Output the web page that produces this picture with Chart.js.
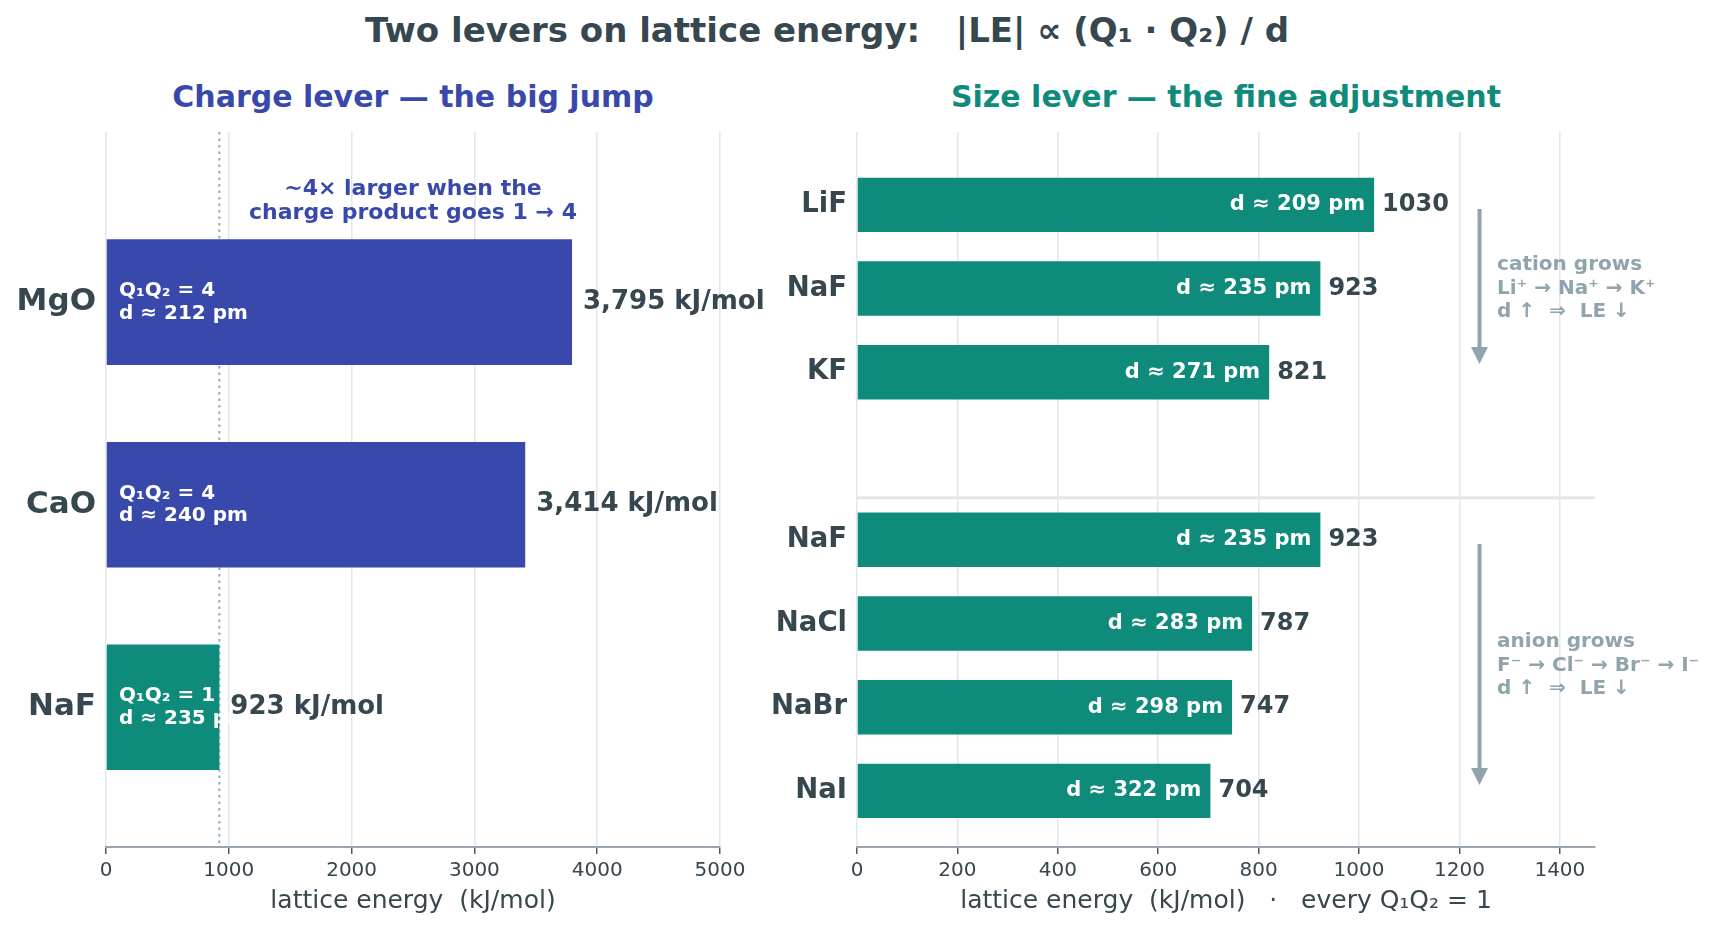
<!DOCTYPE html>
<html>
<head>
<meta charset="utf-8">
<script src="https://cdn.jsdelivr.net/npm/chart.js@4.4.1/dist/chart.umd.min.js"></script>
<style>
  html, body { margin: 0; padding: 0; background: #fff; }
  #page { position: relative; width: 1717px; height: 929px; overflow: hidden; font-family: 'DejaVu Sans', sans-serif; }
  .lbl { position: absolute; white-space: pre; font-weight: bold; transform: translate(-50%, -50%); line-height: 1; }
  #title { left: 827px; top: 30px; font-size: 34px; color: #37474F; }
  #subL { left: 413px; top: 97px; font-size: 30px; color: #3949AB; }
  #subR { left: 1226px; top: 97px; font-size: 30px; color: #0E8B7B; }
  #wrapL { position: absolute; left: 0; top: 0; width: 860px; height: 929px; }
  #wrapR { position: absolute; left: 760px; top: 0; width: 957px; height: 929px; }
</style>
</head>
<body>
<div id="page">
  <div id="title" class="lbl">Two levers on lattice energy:   |LE| ∝ (Q₁ · Q₂) / d</div>
  <div id="subL" class="lbl">Charge lever — the big jump</div>
  <div id="subR" class="lbl">Size lever — the fine adjustment</div>
  <div id="wrapL"><canvas id="chargeChart"></canvas></div>
  <div id="wrapR"><canvas id="sizeChart"></canvas></div>
</div>
<script>
// charge lever (left panel)
const chargeLabels = ['MgO', 'CaO', 'NaF'];
const chargeRows = [0, 1, 2];
const chargeEnergy = [3795, 3414, 923];
const chargeProduct = [4, 4, 1];
const chargeDist = [212, 240, 235];
const chargeTicks = [0, 1000, 2000, 3000, 4000, 5000];

// size lever (right panel), every Q1Q2 = 1
const sizeLabels = ['LiF', 'NaF', 'KF', 'NaF', 'NaCl', 'NaBr', 'NaI'];
const sizeRows = [0, 1, 2, 4, 5, 6, 7];
const sizeEnergy = [1030, 923, 821, 923, 787, 747, 704];
const sizeDist = [209, 235, 271, 235, 283, 298, 322];
const sizeTicks = [0, 200, 400, 600, 800, 1000, 1200, 1400];

const INDIGO = '#3949AB';
const TEAL = '#0E8B7B';
const DARK = '#37474F';
const MUTED = '#90A4AE';
const GRID = '#E3E6EA';
const FONT = "'DejaVu Sans', sans-serif";

function xAxis(ticks, max, title) {
  return {
    type: 'linear', min: 0, max: max,
    afterBuildTicks: s => { s.ticks = ticks.map(v => ({ value: v })); },
    afterFit: s => { s.height = 929 - 847; },
    grid: { color: GRID, lineWidth: 1.5, drawTicks: true, tickLength: 7, tickColor: '#4E5B63', tickWidth: 1.5 },
    border: { display: true, color: '#9AA5AE', width: 2 },
    ticks: { color: DARK, font: { family: FONT, size: 20 }, padding: 5, maxRotation: 0, callback: v => String(v) },
    title: { display: true, text: title, color: DARK, font: { family: FONT, size: 25 }, padding: { top: 0, bottom: 13 } }
  };
}

function yAxis(rows, labels, min, max, width, size) {
  return {
    type: 'linear', reverse: true, min: min, max: max, offset: false,
    afterBuildTicks: s => { s.ticks = rows.map(v => ({ value: v })); },
    afterFit: s => { s.width = width; },
    grid: { display: false, drawTicks: false, offset: false },
    border: { display: false },
    ticks: {
      color: DARK, padding: 10,
      font: { family: FONT, size: size, weight: 'bold' },
      callback: v => labels[rows.indexOf(v)]
    }
  };
}

function lines(ctx, arr, x, cy, gap) {
  const top = cy - gap * (arr.length - 1) / 2;
  arr.forEach((t, i) => ctx.fillText(t, x, top + i * gap));
}

const chargeNotes = {
  id: 'chargeNotes',
  beforeDatasetsDraw(chart) {
    const { ctx, chartArea: a, scales: { x } } = chart;
    const px = x.getPixelForValue(chargeEnergy[2]);
    ctx.save();
    ctx.strokeStyle = '#9AA5AE';
    ctx.lineWidth = 2;
    ctx.setLineDash([2.5, 4]);
    ctx.beginPath();
    ctx.moveTo(px, a.top);
    ctx.lineTo(px, a.bottom);
    ctx.stroke();
    ctx.restore();
  },
  afterDatasetsDraw(chart) {
    const { ctx, scales: { x, y } } = chart;
    ctx.save();
    ctx.textBaseline = 'middle';
    chargeRows.forEach((r, i) => {
      const cy = y.getPixelForValue(r);
      ctx.fillStyle = '#fff';
      ctx.textAlign = 'left';
      ctx.font = `bold 20px ${FONT}`;
      lines(ctx, ['Q₁Q₂ = ' + chargeProduct[i], 'd ≈ ' + chargeDist[i] + ' pm'], x.getPixelForValue(0) + 13, cy, 22.5);
      ctx.fillStyle = DARK;
      ctx.font = `bold 26px ${FONT}`;
      ctx.fillText(chargeEnergy[i].toLocaleString('en-US') + ' kJ/mol', x.getPixelForValue(chargeEnergy[i]) + 11, cy);
    });
    ctx.fillStyle = INDIGO;
    ctx.textAlign = 'center';
    ctx.font = `bold 22px ${FONT}`;
    lines(ctx, ['~4× larger when the', 'charge product goes 1 → 4'], x.getPixelForValue(2500), y.getPixelForValue(-0.5), 24);
    ctx.restore();
  }
};

function arrow(ctx, px, y0, y1) {
  ctx.beginPath();
  ctx.moveTo(px, y0);
  ctx.lineTo(px, y1 - 14);
  ctx.stroke();
  ctx.beginPath();
  ctx.moveTo(px, y1);
  ctx.lineTo(px - 8.5, y1 - 17);
  ctx.lineTo(px + 8.5, y1 - 17);
  ctx.closePath();
  ctx.fill();
}

const sizeNotes = {
  id: 'sizeNotes',
  beforeDatasetsDraw(chart) {
    const { ctx, chartArea: a, scales: { y } } = chart;
    const py = y.getPixelForValue(3.5);
    ctx.save();
    ctx.strokeStyle = GRID;
    ctx.lineWidth = 3;
    ctx.beginPath();
    ctx.moveTo(a.left, py);
    ctx.lineTo(a.right, py);
    ctx.stroke();
    ctx.restore();
  },
  afterDatasetsDraw(chart) {
    const { ctx, scales: { x, y } } = chart;
    ctx.save();
    ctx.textBaseline = 'middle';
    sizeRows.forEach((r, i) => {
      const cy = y.getPixelForValue(r);
      const end = x.getPixelForValue(sizeEnergy[i]);
      ctx.fillStyle = '#fff';
      ctx.textAlign = 'right';
      ctx.font = `bold 21px ${FONT}`;
      ctx.fillText('d ≈ ' + sizeDist[i] + ' pm', end - 9, cy);
      ctx.fillStyle = DARK;
      ctx.textAlign = 'left';
      ctx.font = `bold 24px ${FONT}`;
      ctx.fillText(String(sizeEnergy[i]), end + 8, cy);
    });

    const ax = x.getPixelForValue(1240);
    ctx.strokeStyle = MUTED;
    ctx.fillStyle = MUTED;
    ctx.lineWidth = 4;
    arrow(ctx, ax, y.getPixelForValue(0.05), y.getPixelForValue(1.9));
    arrow(ctx, ax, y.getPixelForValue(4.05), y.getPixelForValue(6.93));

    ctx.textAlign = 'left';
    ctx.font = `bold 20px ${FONT}`;
    const tx = x.getPixelForValue(1275);
    lines(ctx, ['cation grows', 'Li⁺ → Na⁺ → K⁺', 'd ↑  ⇒  LE ↓'], tx, y.getPixelForValue(1), 23.5);
    lines(ctx, ['anion grows', 'F⁻ → Cl⁻ → Br⁻ → I⁻', 'd ↑  ⇒  LE ↓'], tx, y.getPixelForValue(5.5), 23.5);
    ctx.restore();
  }
};

const common = {
  indexAxis: 'y',
  responsive: true,
  maintainAspectRatio: false,
  animation: false,
  devicePixelRatio: 1,
  plugins: { legend: { display: false }, tooltip: { enabled: false } }
};

new Chart(document.getElementById('chargeChart'), {
  type: 'bar',
  data: {
    datasets: [{
      data: chargeEnergy.map((v, i) => ({ x: v, y: chargeRows[i] })),
      backgroundColor: chargeProduct.map(q => q > 1 ? INDIGO : TEAL),
      borderWidth: 0,
      categoryPercentage: 1,
      barPercentage: 0.62
    }]
  },
  options: Object.assign({}, common, {
    layout: { padding: { top: 132, right: 140, left: 0, bottom: 0 } },
    scales: {
      x: xAxis(chargeTicks, 5000, 'lattice energy  (kJ/mol)'),
      y: yAxis(chargeRows, chargeLabels, -0.84, 2.69, 106, 31)
    }
  }),
  plugins: [chargeNotes]
});

new Chart(document.getElementById('sizeChart'), {
  type: 'bar',
  data: {
    datasets: [{
      data: sizeEnergy.map((v, i) => ({ x: v, y: sizeRows[i] })),
      backgroundColor: TEAL,
      borderWidth: 0,
      categoryPercentage: 1,
      barPercentage: 0.65
    }]
  },
  options: Object.assign({}, common, {
    layout: { padding: { top: 132, right: 122, left: 0, bottom: 0 } },
    scales: {
      x: xAxis(sizeTicks, 1470, 'lattice energy  (kJ/mol)   ·   every Q₁Q₂ = 1'),
      y: yAxis(sizeRows, sizeLabels, -0.87, 7.67, 97, 27.5)
    }
  }),
  plugins: [sizeNotes]
});
</script>
</body>
</html>
